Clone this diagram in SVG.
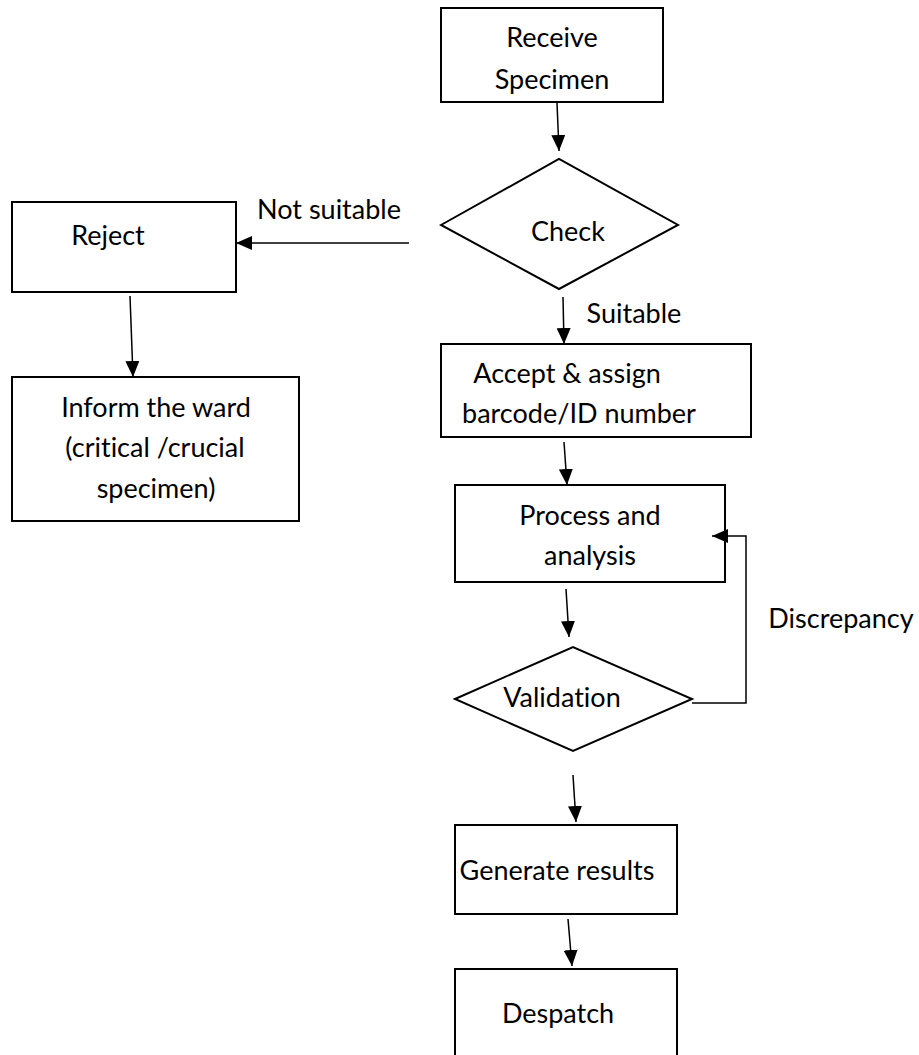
<svg xmlns="http://www.w3.org/2000/svg" width="919" height="1055" viewBox="0 0 919 1055">
<style>
  .box { fill: #ffffff; stroke: #000000; stroke-width: 2; }
  .lbl { font-family: Lato, "Open Sans", "Liberation Sans", sans-serif; font-size: 27px; fill: #000000; text-anchor: middle; font-variant-ligatures: none; font-feature-settings: "liga" 0, "dlig" 0; }
  .edge { fill: none; stroke: #000000; stroke-width: 1.5; marker-end: url(#ah); }
</style>
<defs>
  <marker id="ah" markerUnits="userSpaceOnUse" markerWidth="16" markerHeight="14" refX="16" refY="7" orient="auto">
    <path d="M0,0 L16,7 L0,14 Z" fill="#000000"/>
  </marker>
</defs>
<rect width="919" height="1055" fill="#ffffff"/>

<g id="receive">
  <rect class="box" x="441" y="8" width="222" height="94"/>
  <text class="lbl" x="552" y="47">Receive</text>
  <text class="lbl" x="552" y="89">Specimen</text>
</g>

<g id="check">
  <polygon class="box" points="441,225 559,159 678,225 559,289"/>
  <text class="lbl" x="568" y="241">Check</text>
</g>

<g id="reject">
  <rect class="box" x="12" y="202" width="224" height="90"/>
  <text class="lbl" x="108" y="245">Reject</text>
</g>

<g id="inform">
  <rect class="box" x="12" y="377" width="287" height="144"/>
  <text class="lbl" x="156" y="417">Inform the ward</text>
  <text class="lbl" x="155" y="457">(critical /crucial</text>
  <text class="lbl" x="156" y="498">specimen)</text>
</g>

<g id="accept">
  <rect class="box" x="441" y="344" width="310" height="93"/>
  <text class="lbl" x="567" y="383">Accept &amp; assign</text>
  <text class="lbl" x="579" y="423">barcode/ID number</text>
</g>

<g id="process">
  <rect class="box" x="455" y="485" width="270" height="97"/>
  <text class="lbl" x="590" y="525">Process and</text>
  <text class="lbl" x="590" y="565">analysis</text>
</g>

<g id="validation">
  <polygon class="box" points="455,699 573,647 692,699 573,751"/>
  <text class="lbl" x="562" y="707">Validation</text>
</g>

<g id="generate">
  <rect class="box" x="455" y="825" width="222" height="89"/>
  <text class="lbl" x="557" y="880">Generate results</text>
</g>

<g id="despatch">
  <rect class="box" x="455" y="969" width="222" height="100"/>
  <text class="lbl" x="558" y="1023">Despatch</text>
</g>

<g id="connectors">
  <line class="edge" x1="557" y1="103" x2="559" y2="151"/>
  <line class="edge" x1="409" y1="243" x2="236" y2="243"/>
  <line class="edge" x1="130" y1="296" x2="133" y2="377"/>
  <line class="edge" x1="563" y1="297" x2="564" y2="344"/>
  <line class="edge" x1="564" y1="442" x2="567" y2="485"/>
  <line class="edge" x1="566" y1="589" x2="569" y2="637"/>
  <polyline class="edge" points="692,703 746,703 746,536 712,536"/>
  <line class="edge" x1="573" y1="775" x2="576" y2="822"/>
  <line class="edge" x1="568" y1="919" x2="572" y2="966"/>
  <text class="lbl" x="329" y="219">Not suitable</text>
  <text class="lbl" x="634" y="323">Suitable</text>
  <text class="lbl" x="841" y="628">Discrepancy</text>
</g>
</svg>
